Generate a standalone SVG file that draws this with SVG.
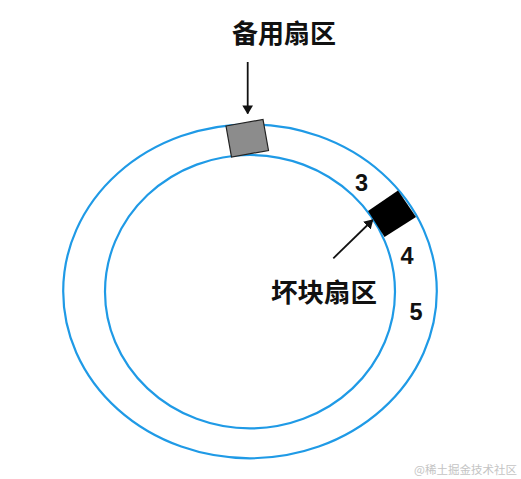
<svg xmlns="http://www.w3.org/2000/svg" width="521" height="479" viewBox="0 0 521 479">
<style>
.ring{fill:none;stroke:#1f9ae6;stroke-width:2.2}
.lbl{font-family:"Noto Sans CJK SC","Liberation Sans",sans-serif;font-weight:bold;fill:#111}
.num{font-family:"Liberation Sans",Arial,sans-serif;font-weight:bold;fill:#111;font-size:23.5px}
.arr{stroke:#111;stroke-width:1.8;fill:none}
</style>
<defs>
<marker id="ah" viewBox="0 0 10 12" refX="9" refY="6" markerWidth="5" markerHeight="6" orient="auto" markerUnits="strokeWidth">
<path d="M0,0 L10,6 L0,12 z" fill="#111"/>
</marker>
</defs>
<rect width="521" height="479" fill="#fff"/>
<g id="disk">
<ellipse class="ring" cx="250" cy="291.3" rx="186.8" ry="167"/>
<ellipse class="ring" cx="250" cy="291.7" rx="145" ry="136.7"/>
</g>
<g id="spare-sector">
<polygon points="226,126 263,119.5 268.5,150.5 231.5,157" fill="#8c8c8c" stroke="#222" stroke-width="1.2"/>
</g>
<g id="bad-sector">
<polygon points="368,211 398,190.5 416,217 384.5,237" fill="#000"/>
</g>
<g id="connectors">
<line class="arr" x1="247.7" y1="62" x2="247.7" y2="113.5" marker-end="url(#ah)"/>
<line class="arr" x1="333.3" y1="258.3" x2="372.7" y2="220" marker-end="url(#ah)"/>
</g>
<g id="labels">
<text class="lbl" x="232" y="42.5" font-size="26">备用扇区</text>
<text class="lbl" x="271" y="301.5" font-size="26.5">坏块扇区</text>
<text class="num" x="355" y="191">3</text>
<text class="num" x="400.5" y="263.5">4</text>
<text class="num" x="409.5" y="320">5</text>
</g>
<text x="517" y="474" text-anchor="end" font-family="Noto Sans CJK SC,sans-serif" font-size="11.5" fill="#c4c4c4">@稀土掘金技术社区</text>
</svg>
